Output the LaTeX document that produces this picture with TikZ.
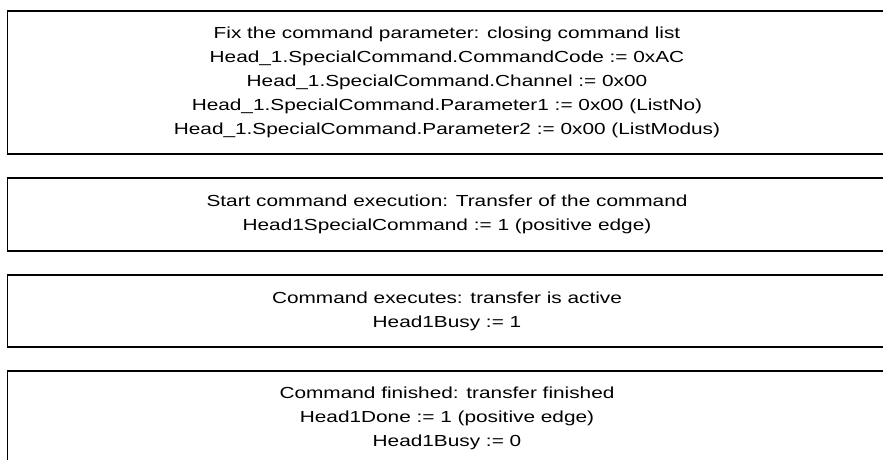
\documentclass[tikz,border=0pt]{standalone}
\usepackage{fontspec}
\setmainfont{Liberation Sans}[FakeStretch=1.3]
\begin{document}
\begin{tikzpicture}[x=1pt,y=-1pt,
  stepbox/.style={draw=black, line width=1.7pt, rectangle, inner sep=0pt,
    align=center, font=\fontsize{16}{24}\selectfont, minimum width=879pt}]
\useasboundingbox (0,0) rectangle (883,460);
\clip (0,0) rectangle (883,460);
\node[stepbox, minimum height=143pt] (b1) at (447,82.5)
  {Fix the command parameter: closing command list\\
   Head\_1.SpecialCommand.CommandCode := 0xAC\\
   Head\_1.SpecialCommand.Channel := 0x00\\
   Head\_1.SpecialCommand.Parameter1 := 0x00 (ListNo)\\
   Head\_1.SpecialCommand.Parameter2 := 0x00 (ListModus)};
\node[stepbox, minimum height=73pt] (b2) at (447,214.5)
  {Start command execution: Transfer of the command\\
   Head1SpecialCommand := 1 (positive edge)};
\node[stepbox, minimum height=72pt] (b3) at (447,311)
  {Command executes: transfer is active\\
   Head1Busy := 1};
\node[stepbox, minimum height=94pt] (b4) at (447,418)
  {Command finished: transfer finished\\
   Head1Done := 1 (positive edge)\\
   Head1Busy := 0};
\end{tikzpicture}
\end{document}
